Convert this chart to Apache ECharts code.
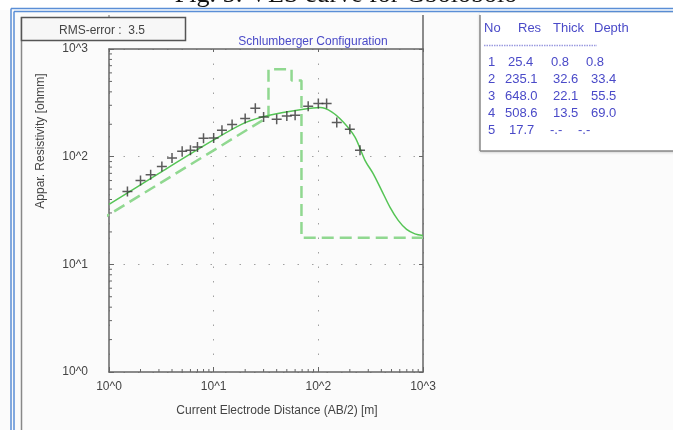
<!DOCTYPE html>
<html>
<head>
<meta charset="utf-8">
<script src="https://cdn.jsdelivr.net/npm/echarts@6/dist/echarts.min.js"></script>
<style>
	html, body {margin: 0; padding: 0; background: #ffffff;}
	#chart {width: 673px; height: 430px;}
</style>
</head>
<body>
<div id="chart"></div>
<script>
// measured apparent resistivity (field data)
let abHalf = [1.5, 2, 2.5, 3.2, 4, 5, 6, 7, 8, 10, 12, 15, 20, 25, 30, 40, 50, 60, 80, 100, 120, 150, 200, 250];
let rhoObs = [47.6, 60, 68, 81, 97, 112, 115, 123, 148, 149, 176, 199, 226, 281, 234, 223, 238, 243, 294, 312, 312, 208, 180, 115];

// calculated curve of the model
let curveAb = [1, 3, 10, 20, 34, 72, 104, 134, 173, 224, 279, 334, 402, 483, 580, 697, 837, 1000];
let curveRho = [36, 70, 143, 207, 243, 276, 286, 261, 210, 152, 92.5, 69.6, 48.7, 34, 25.6, 21.1, 19.2, 18.5];

// layer model
let layerNo = [1, 2, 3, 4, 5];
let layerRes = [25.4, 235.1, 648.0, 508.6, 17.7];
let layerThick = [0.8, 32.6, 22.1, 13.5, null];
let layerDepth = [0.8, 33.4, 55.5, 69.0, null];

let decadeLabels = ['10^0', '10^1', '10^2', '10^3'];
let minorFactors = [2, 3, 4, 5, 6, 7, 8, 9];
let rmsError = 3.5;

let xMin = 1;
let xMax = 1000;
let yMin = 1;
let yMax = 1000;

let font = 'Arial, "Liberation Sans", sans-serif';
let axisColor = '#666';
let textColor = '#444';
let blueText = '#4a4ac8';

// model polyline: first segment sloped, then steps
let modelLine = [[layerDepth[0], layerRes[0]]];
for (let i = 1; i < 4; i++) {
	modelLine.push([layerDepth[i], layerRes[i]]);
	modelLine.push([layerDepth[i], layerRes[i + 1]]);
}
modelLine.push([xMax, layerRes[4]]);

let minorX = [];
let minorY = [];
[1, 10, 100].forEach((d) => {
	minorFactors.forEach((f) => {
		minorX.push([d * f, yMin]);
		minorY.push([xMin, d * f]);
	});
});

let fmt = (v) => (v == null ? '-.-' : v.toFixed(1));

// table layout
let headX = [484, 518, 553, 594];
let colXRow = [
	[488, 508, 551, 586],
	[488, 505, 553, 591],
	[488, 505, 553, 591],
	[488, 505, 553, 591],
	[488, 509, 550, 578],
];
let rowY = [62, 79.5, 96.5, 113.5, 130.5];

let tableText = [];
['No', 'Res', 'Thick', 'Depth'].forEach((t, i) => {
	tableText.push({
		type: 'text',
		x: headX[i],
		y: 28,
		style: {text: t, fill: blueText, font: '13px ' + font, textVerticalAlign: 'middle'},
	});
});
layerNo.forEach((n, r) => {
	let cells = [String(n), fmt(layerRes[r]), fmt(layerThick[r]), fmt(layerDepth[r])];
	cells.forEach((t, c) => {
		tableText.push({
			type: 'text',
			x: colXRow[r][c],
			y: rowY[r],
			style: {text: t, fill: blueText, font: '13px ' + font, textVerticalAlign: 'middle'},
		});
	});
});

let chart = echarts.init(document.getElementById('chart'));

let logAxis = (extra) => Object.assign({
	type: 'log',
	logBase: 10,
	min: 1,
	max: 1000,
	axisLine: {show: true, lineStyle: {color: axisColor, width: 1.5}},
	axisTick: {show: true, inside: true, length: 5, lineStyle: {color: axisColor}},
	axisLabel: {show: false},
	splitLine: {show: false},
}, extra);

let gridDots = {show: true, lineStyle: {color: '#a0a0a0', width: 1, type: [1.5, 13]}};
let tickLabel = {
	show: true,
	fontSize: 12,
	fontFamily: font,
	color: textColor,
	formatter: (v) => decadeLabels[Math.round(Math.log10(v))],
};

chart.setOption({
	backgroundColor: '#fbfbfb',
	animation: false,
	grid: {left: 109, top: 49, width: 314, height: 323},
	xAxis: [
		logAxis({position: 'bottom', splitLine: gridDots, axisLabel: Object.assign({margin: 9}, tickLabel)}),
		logAxis({position: 'top', axisTick: {show: true, inside: true, length: 3, lineStyle: {color: axisColor}}}),
	],
	yAxis: [
		logAxis({position: 'left', splitLine: gridDots, axisLabel: Object.assign({margin: 21}, tickLabel)}),
		logAxis({position: 'right', axisTick: {show: true, inside: true, length: 4, lineStyle: {color: axisColor}}}),
	],
	graphic: [
		// page caption, cut at top
		{type: 'rect', shape: {x: 0, y: 0, width: 673, height: 10}, style: {fill: '#ffffff'}, z: -1},
		{type: 'text', x: 346, y: -5, style: {text: 'Fig. 5: VES curve for Gbolobolo', font: '26px "Liberation Serif", serif', fill: '#111', textAlign: 'center', textVerticalAlign: 'middle'}},
		// blue double frame
		{type: 'line', shape: {x1: 11, y1: 8.5, x2: 673, y2: 8.5}, style: {stroke: '#5a8ed6', lineWidth: 1.5}},
		{type: 'line', shape: {x1: 14, y1: 11.5, x2: 673, y2: 11.5}, style: {stroke: '#5a8ed6', lineWidth: 1.5}},
		{type: 'line', shape: {x1: 11, y1: 8.5, x2: 11, y2: 430}, style: {stroke: '#5a8ed6', lineWidth: 1.5}},
		{type: 'line', shape: {x1: 14, y1: 11.5, x2: 14, y2: 430}, style: {stroke: '#5a8ed6', lineWidth: 1.5}},
		// window frame
		{type: 'line', shape: {x1: 21.5, y1: 17, x2: 21.5, y2: 430}, style: {stroke: '#888', lineWidth: 1.5}},
		{type: 'line', shape: {x1: 423, y1: 15, x2: 423, y2: 49}, style: {stroke: axisColor, lineWidth: 1.5}},
		{type: 'line', shape: {x1: 109, y1: 15, x2: 109, y2: 18}, style: {stroke: axisColor, lineWidth: 1}},
		// RMS box
		{type: 'rect', shape: {x: 21.5, y: 17.5, width: 164, height: 23}, style: {fill: '#f7f7f7', stroke: '#555', lineWidth: 1.5}},
		{type: 'text', x: 102, y: 31, style: {text: 'RMS-error :  ' + rmsError, font: '12px ' + font, fill: textColor, textAlign: 'center', textVerticalAlign: 'middle'}},
		{type: 'text', x: 313, y: 42, style: {text: 'Schlumberger Configuration', font: '12px ' + font, fill: blueText, textAlign: 'center', textVerticalAlign: 'middle'}},
		// axis names
		{type: 'text', x: 277, y: 411, style: {text: 'Current Electrode Distance (AB/2) [m]', font: '12px ' + font, fill: textColor, textAlign: 'center', textVerticalAlign: 'middle'}},
		{type: 'text', x: 41, y: 141, rotation: Math.PI / 2, style: {text: 'Appar. Resistivity [ohmm]', font: '12px ' + font, fill: textColor, textAlign: 'center', textVerticalAlign: 'middle'}},
		// layer table box (left and bottom edges only)
		{type: 'rect', shape: {x: 480, y: 13, width: 200, height: 138}, style: {fill: '#ffffff', shadowColor: 'rgba(0,0,0,0.25)', shadowBlur: 3, shadowOffsetY: 1}},
		{type: 'line', shape: {x1: 480, y1: 15, x2: 480, y2: 151}, style: {stroke: '#888', lineWidth: 1.5}},
		{type: 'line', shape: {x1: 480, y1: 151, x2: 673, y2: 151}, style: {stroke: '#888', lineWidth: 1.5}},
		{type: 'line', shape: {x1: 484, y1: 45.5, x2: 597, y2: 45.5}, style: {stroke: '#9a9ae0', lineWidth: 1.5, lineDash: [1.5, 1]}},
		...tableText,
	],
	series: [
		{
			type: 'line',
			data: modelLine,
			showSymbol: false,
			clip: true,
			lineStyle: {color: '#90d890', width: 2.5, type: [12, 6]},
			z: 2,
		},
		{
			type: 'line',
			data: curveAb.map((x, i) => [x, curveRho[i]]),
			showSymbol: false,
			smooth: 0.3,
			clip: true,
			lineStyle: {color: '#55c455', width: 1.5},
			z: 3,
		},
		{
			type: 'scatter',
			data: abHalf.map((x, i) => [x, rhoObs[i]]),
			symbol: 'path://M4.25,0h1.5v4.25h4.25v1.5h-4.25v4.25h-1.5v-4.25h-4.25v-1.5h4.25z',
			symbolSize: 10,
			itemStyle: {color: '#333'},
			z: 4,
		},
		{
			type: 'custom',
			data: minorX,
			silent: true,
			renderItem: (params, api) => {
				let p = api.coord([api.value(0), api.value(1)]);
				return {type: 'line', shape: {x1: p[0], y1: p[1], x2: p[0], y2: p[1] - 3}, style: {stroke: axisColor, lineWidth: 1}};
			},
		},
		{
			type: 'custom',
			data: minorY,
			silent: true,
			renderItem: (params, api) => {
				let p = api.coord([api.value(0), api.value(1)]);
				return {type: 'line', shape: {x1: p[0], y1: p[1], x2: p[0] + 3, y2: p[1]}, style: {stroke: axisColor, lineWidth: 1}};
			},
		},
	],
});
</script>
</body>
</html>
